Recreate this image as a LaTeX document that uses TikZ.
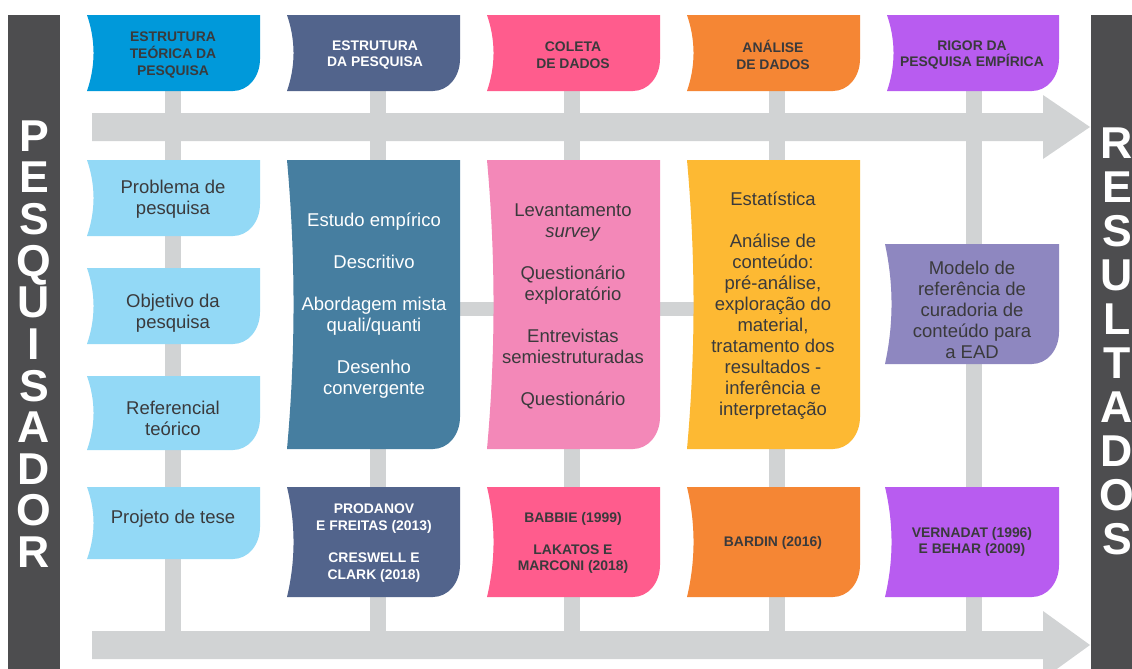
\documentclass[tikz,border=0pt]{standalone}
\usepackage{fontspec}
\setmainfont{Liberation Sans}
\usepackage{tikz}
\usetikzlibrary{positioning}

\definecolor{barDark}{HTML}{4D4D4F}
\definecolor{lineGray}{HTML}{D1D3D4}
\definecolor{txtDark}{HTML}{3A3A3C}
\definecolor{blueHead}{HTML}{0099DA}
\definecolor{blueLight}{HTML}{93D9F6}
\definecolor{slateHead}{HTML}{52648C}
\definecolor{tealMid}{HTML}{467EA0}
\definecolor{pinkHead}{HTML}{FF5C8D}
\definecolor{pinkMid}{HTML}{F388B8}
\definecolor{orangeHead}{HTML}{F58634}
\definecolor{yellowMid}{HTML}{FDB933}
\definecolor{purpleHead}{HTML}{B85CF0}
\definecolor{lavenderMid}{HTML}{8E87C0}

% card: fill, left, top, right, bottom
\newcommand{\cardbox}[5]{%
  \fill[#1] (#2,#3) -- (#4,#3) -- ({#4},{#5-32})
    .. controls ({#4},{#5-14}) and ({#4-12},{#5}) .. ({#4-27},{#5}) -- (#2,#5)
    .. controls ({#2+8.7},{#5-(#5-#3)/3}) and ({#2+8.7},{#3+(#5-#3)/3}) .. (#2,#3) -- cycle;}

\begin{document}
\begin{tikzpicture}[x=0.5pt,y=-0.5pt]
\tikzstyle{body}=[text=txtDark, align=center, yshift=-1.25pt, font=\fontsize{9.25}{10.5}\selectfont]
\tikzstyle{bodyw}=[body, text=white]
\tikzstyle{head}=[text=txtDark, align=center, yshift=-1pt, font=\bfseries\fontsize{6.95}{8.4}\selectfont]
\tikzstyle{headw}=[head, text=white]
\tikzstyle{big}=[text=white, inner sep=0pt, text depth=0pt, font=\bfseries\fontsize{22.3}{22.3}\selectfont]

\clip (0,0) rectangle (1132,669);
\fill[white] (0,0) rectangle (1132,669);

% timeline
\foreach \x in {173,378,572,777,974}
  \fill[lineGray] (\x-8,91) rectangle (\x+8,631);
\fill[lineGray] (378,302) rectangle (777,316);
\fill[lineGray] (92,113) -- (1043,113) -- (1043,95) -- (1090,127) -- (1043,159) -- (1043,141) -- (92,141) -- cycle;
\fill[lineGray] (92,631) -- (1043,631) -- (1043,611) -- (1090,645) -- (1043,679) -- (1043,659) -- (92,659) -- cycle;

\fill[barDark] (8,15) rectangle (60,669);
\fill[barDark] (1091,15) rectangle (1132,669);

% headers
\cardbox{blueHead}{87}{15}{260}{91}
\cardbox{slateHead}{287}{15}{460}{91}
\cardbox{pinkHead}{487}{15}{660}{91}
\cardbox{orangeHead}{687}{15}{860}{91}
\cardbox{purpleHead}{887}{15}{1059}{91}

% first column
\cardbox{blueLight}{87}{160}{260}{236}
\cardbox{blueLight}{87}{268}{260}{344}
\cardbox{blueLight}{87}{376}{260}{450}
\cardbox{blueLight}{87}{487}{260}{559}

% middle row
\cardbox{tealMid}{287}{160}{460}{449}
\cardbox{pinkMid}{487}{160}{660}{449}
\cardbox{yellowMid}{687}{160}{860}{449}
\cardbox{lavenderMid}{885}{244}{1059}{364}

% references
\cardbox{slateHead}{287}{487}{460}{597}
\cardbox{pinkHead}{487}{487}{660}{597}
\cardbox{orangeHead}{687}{487}{860}{597}
\cardbox{purpleHead}{885}{487}{1059}{597}

\node (teorica) [head] at (173,53) {ESTRUTURA\\TEÓRICA DA\\PESQUISA};
\node (estrutura) [headw] at (375,53) {ESTRUTURA\\DA PESQUISA};
\node (coleta) [head] at (573,53) {COLETA\\DE DADOS};
\node (analise) [head] at (773,53) {ANÁLISE\\DE DADOS};
\node (rigor) [head] at (972,53) {RIGOR DA\\PESQUISA EMPÍRICA};

\node (problema) [body] at (173,197) {Problema de\\pesquisa};
\node (objetivo) [body] at (173,311) {Objetivo da\\pesquisa};
\node (referencial) [body] at (173,416) {Referencial\\teórico};
\node (projeto) [body] at (173,516) {Projeto de tese};

\node (metodo) [bodyw] at (374,303) {Estudo empírico\\[10.5pt]Descritivo\\[10.5pt]Abordagem mista\\quali/quanti\\[10.5pt]Desenho\\convergente};
\node (instrumentos) [body] at (573,304) {Levantamento\\\textit{survey}\\[10.5pt]Questionário\\exploratório\\[10.5pt]Entrevistas\\semiestruturadas\\[10.5pt]Questionário};
\node (tecnicas) [body] at (773,303) {Estatística\\[10.5pt]Análise de\\conteúdo:\\pré-análise,\\exploração do\\material,\\tratamento dos\\resultados -\\inferência e\\interpretação};
\node (modelo) [body] at (972,307) {Modelo de\\referência de\\curadoria de\\conteúdo para\\a EAD};

\node (refestrutura) [headw] at (374,541) {PRODANOV\\E FREITAS (2013)\\[7.6pt]CRESWELL E\\CLARK (2018)};
\node (refcoleta) [head] at (573,541) {BABBIE (1999)\\[7.6pt]LAKATOS E\\MARCONI (2018)};
\node (refanalise) [head] at (773,541) {BARDIN (2016)};
\node (refrigor) [head] at (972,540) {VERNADAT (1996)\\E BEHAR (2009)};

\foreach \l [count=\i from 0] in {P,E,S,Q,U,I,S,A,D,O,R}
  \node (pesq\i) [big] at (34,{136+41.6*\i}) {\l};
\foreach \l [count=\i from 0] in {R,E,S,U,L,T,A,D,O,S}
  \node (res\i) [big] at (1117,{143+44*\i}) {\l};

\end{tikzpicture}
\end{document}
